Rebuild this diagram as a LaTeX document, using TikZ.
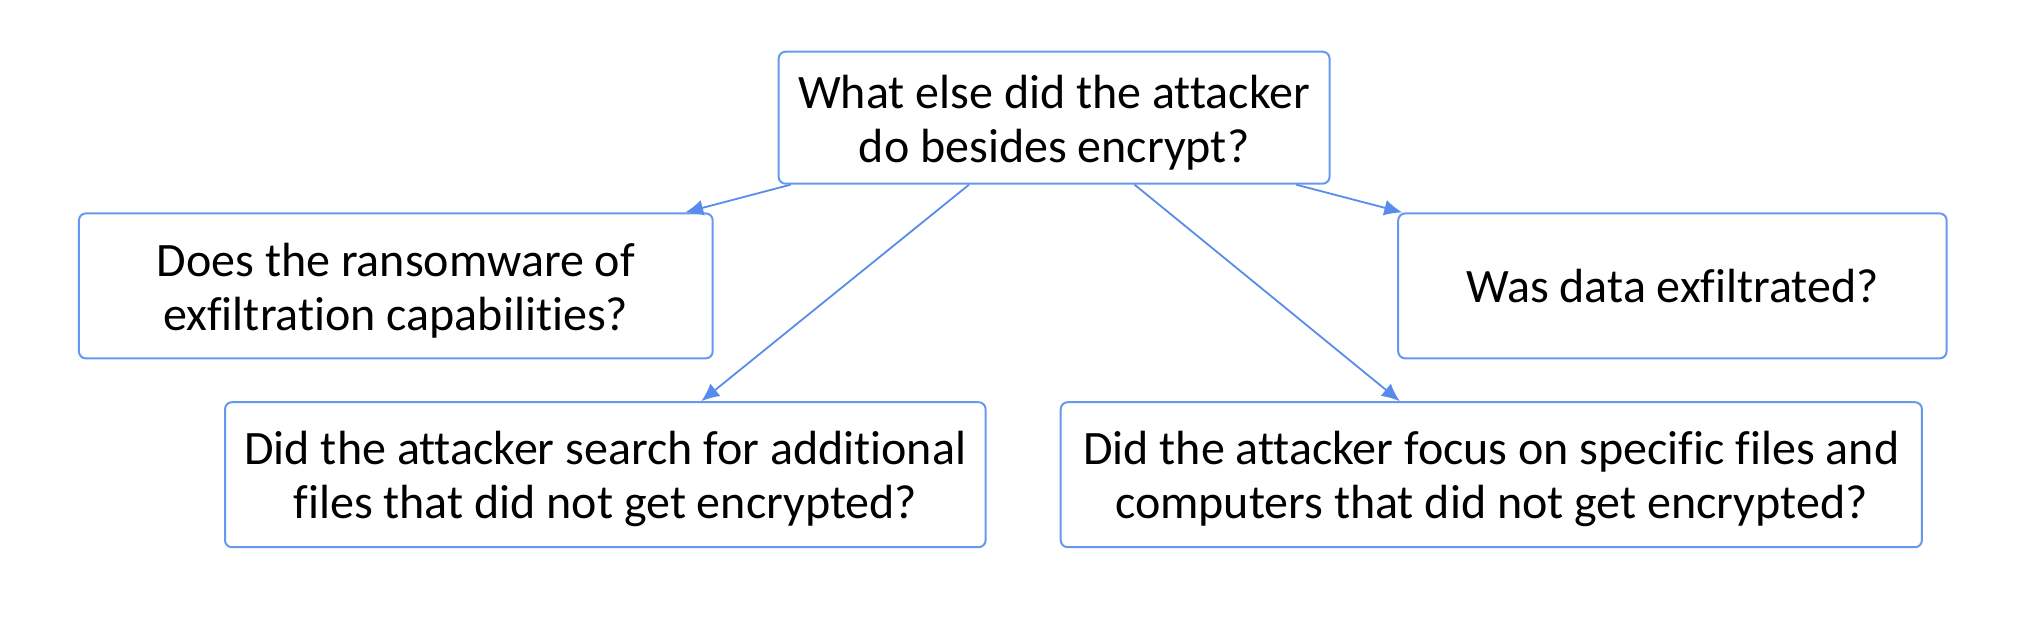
\documentclass[tikz,border=0pt]{standalone}
\usepackage{fontspec}
\setmainfont[RawFeature=-liga]{Carlito}
\usetikzlibrary{arrows.meta}
\definecolor{boxblue}{RGB}{102,153,238}
\definecolor{arrblue}{RGB}{88,140,235}
\begin{document}
\begin{tikzpicture}[x=1pt,y=1pt,
  qbox/.style={draw=boxblue,line width=1pt,rounded corners=3.5pt,fill=white,inner sep=0pt},
  qtext/.style={align=center,inner sep=0pt,font=\fontsize{24}{27}\selectfont,text=black},
  conn/.style={draw=arrblue,line width=0.9pt,-{Latex[length=9pt,width=8pt]}}]
\useasboundingbox (0,0) rectangle (1014,-315);
\node[qbox,minimum width=275.5pt,minimum height=66pt] (top) at (527.05,-58.85) {};
\node[qtext,yshift=-2.3pt] (toptext) at (top.center)
  {What else did the attacker\\do besides encrypt?};
\node[qbox,minimum width=316.9pt,minimum height=72.5pt] (left) at (197.9,-142.95) {};
\node[qtext,yshift=-2.3pt] (lefttext) at (left.center)
  {Does the ransomware of\\exfiltration capabilities?};
\node[qbox,minimum width=274.2pt,minimum height=72.5pt] (right) at (836.2,-142.95) {};
\node[qtext] (righttext) at (right.center) {Was data exfiltrated?};
\node[qbox,minimum width=380.3pt,minimum height=72.5pt] (bl) at (302.65,-237.35) {};
\node[qtext,yshift=-2.3pt] (bltext) at (bl.center)
  {Did the attacker search for additional\\files that did not get encrypted?};
\node[qbox,minimum width=430.6pt,minimum height=72.5pt] (br) at (745.65,-237.35) {};
\node[qtext,yshift=-2.3pt] (brtext) at (br.center)
  {Did the attacker focus on specific files and\\computers that did not get encrypted?};
\draw[conn] ([xshift=6.5pt]top.south west) -- ([xshift=-14.25pt]left.north east);
\draw[conn] ([xshift=95.7pt]top.south west) -- ([xshift=238.65pt]bl.north west);
\draw[conn] ([xshift=178.5pt]top.south west) -- ([xshift=170.05pt]br.north west);
\draw[conn] ([xshift=259.35pt]top.south west) -- ([xshift=2.55pt]right.north west);
\end{tikzpicture}
\end{document}
